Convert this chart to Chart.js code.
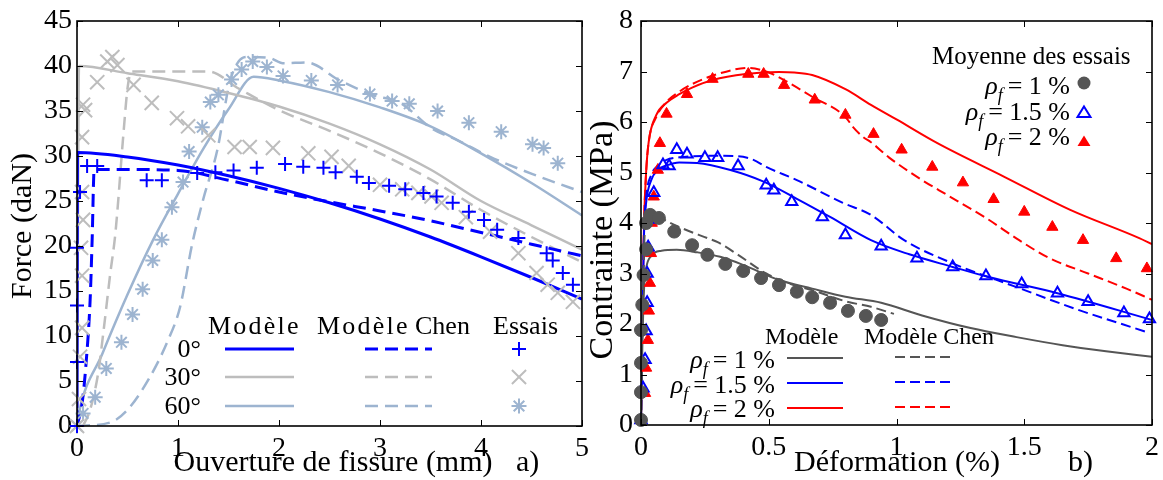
<!DOCTYPE html>
<html>
<head>
<meta charset="utf-8">
<script src="https://cdn.jsdelivr.net/npm/chart.js@4.4.1/dist/chart.umd.min.js"></script>
<style>
  body { margin: 0; background: #fff; width: 1163px; height: 480px; overflow: hidden; position: relative; font-family: 'Liberation Serif', serif; }
  .panel { position: absolute; top: 0; height: 480px; }
</style>
</head>
<body>
<div class="panel" style="left:0;width:590px"><canvas id="chartA"></canvas></div>
<div class="panel" style="left:590px;width:573px"><canvas id="chartB"></canvas></div>
<script>
// ---- panel a) : force vs crack opening ----
const mod0 = [[0,0],[0.005,30.4],[0.5,29.9],[1,29],[1.5,27.8],[2,26.4],[2.5,24.8],[3,23],[3.5,21],[4,18.8],[4.5,16.5],[5,14.1]];
const chen0 = [[0,0],[0.05,2.5],[0.09,7],[0.13,14],[0.15,20.7],[0.17,28.5],[0.5,28.5],[1,28.4],[1.5,27.3],[2,26],[2.5,24.9],[3,23.9],[3.5,22.8],[4,21.5],[4.5,20.2],[5,18.9]];
const essais0 = [[0,0],[0,7.1],[0,13.4],[0,19.8],[0.03,26],[0.1,28.9],[0.2,28.9],[0.69,27.3],[0.84,27.3],[1.19,28.1],[1.37,28.2],[1.55,28.4],[1.78,28.7],[2.06,29.1],[2.24,28.8],[2.44,28.7],[2.56,28.2],[2.77,27.7],[2.89,27],[3.09,26.7],[3.25,26.3],[3.43,25.9],[3.56,25.5],[3.72,24.8],[3.88,23.8],[4.03,22.9],[4.16,21.8],[4.37,20.9],[4.65,19.2],[4.71,18.4],[4.81,17],[4.91,15.7]];

const mod30 = [[0,0],[0.02,40],[0.5,39.2],[1,38.3],[1.5,37],[2,35.5],[2.5,33.6],[3,31.3],[3.5,28.5],[4,25],[4.5,22.3],[5,19.6]];
const chen30 = [[0.06,0],[0.13,1.8],[0.21,5.9],[0.26,10.3],[0.33,17],[0.38,21.4],[0.46,32.5],[0.5,37.5],[0.54,39.4],[1.3,39.4],[1.6,37.5],[2,35.1],[2.5,32.8],[3,30.3],[3.5,27.4],[4,24],[4.5,21],[5,18.2]];
const essais30 = [[0,0],[0.02,3],[0.03,7.7],[0.05,10.9],[0.05,16.7],[0.04,19.8],[0.06,22.9],[0.05,26],[0.05,32.1],[0.06,35.7],[0.08,35.1],[0.2,38.2],[0.3,40.5],[0.35,41],[0.4,40.1],[0.56,37.9],[0.74,35.9],[0.99,34.2],[1.1,33.3],[1.3,32.3],[1.56,31],[1.71,31],[1.94,30.9],[2.29,30.3],[2.52,29.9],[2.69,28.9],[3,26.8],[3.22,26.3],[3.38,25.9],[3.51,25.5],[3.61,24.8],[3.85,23.2],[4.09,21.6],[4.37,19.2],[4.55,17],[4.66,15.7],[4.76,14.8],[4.91,13.8]];

const mod60 = [[0,0],[0.02,1.5],[0.25,8],[0.5,14.6],[0.75,20.6],[1,25.8],[1.25,30.8],[1.5,35.2],[1.75,38.8],[2,38.4],[2.5,37.1],[3,35.4],[3.5,33.3],[4,30.3],[4.5,27],[5,23.4]];
const chen60 = [[0,0],[0.33,0.4],[0.5,1.8],[0.72,5.4],[0.9,9.5],[1.02,13.2],[1.14,20.2],[1.25,25.2],[1.39,30.7],[1.51,38.1],[1.6,40.5],[1.69,41],[1.9,40.9],[2.05,40.3],[2.27,40.4],[2.6,38.4],[2.92,36.8],[3.2,35.9],[3.52,33],[3.76,31.8],[4.09,29.9],[4.58,27.7],[5,26]];
const essais60 = [[0,0],[0.06,1.4],[0.18,3.2],[0.29,6.4],[0.44,9.3],[0.55,12.4],[0.65,15.2],[0.75,18.4],[0.84,20.7],[0.94,24.3],[1.05,27.1],[1.11,30.5],[1.24,33.2],[1.32,36],[1.4,36.8],[1.53,38.5],[1.63,39.6],[1.74,40.5],[1.88,39.9],[2.04,38.9],[2.32,38.4],[2.58,37.9],[2.9,36.9],[3.12,36.1],[3.29,35.8],[3.57,35],[3.88,33.7],[4.2,32.7],[4.51,31.3],[4.62,30.9],[4.76,29.2]];

const anglesA = ['0°', '30°', '60°'];

// ---- panel b) : stress vs strain ----
const modR1 = [[0,0],[0.005,1.5],[0.012,2.7],[0.02,3.1],[0.04,3.35],[0.08,3.45],[0.14,3.47],[0.22,3.42],[0.31,3.33],[0.4,3.17],[0.54,2.87],[0.67,2.7],[0.8,2.54],[0.94,2.42],[1.1,2.17],[1.29,1.92],[1.47,1.74],[1.65,1.58],[1.82,1.46],[2,1.35]];
const chenR1 = [[0,0],[0.005,2],[0.012,3.5],[0.02,4.1],[0.04,4.25],[0.08,4.1],[0.15,3.92],[0.26,3.7],[0.3,3.62],[0.38,3.37],[0.49,3.0],[0.58,2.8],[0.67,2.67],[0.8,2.45],[0.9,2.34],[0.99,2.2]];
const essaisR1 = [[0,0.1],[0,0.65],[0,1.23],[0,1.88],[0.005,2.38],[0.01,2.97],[0.02,3.48],[0.02,4.0],[0.036,4.16],[0.07,4.1],[0.13,3.83],[0.2,3.56],[0.26,3.37],[0.33,3.19],[0.4,3.05],[0.47,2.91],[0.54,2.77],[0.61,2.64],[0.67,2.53],[0.74,2.42],[0.81,2.26],[0.88,2.16],[0.94,2.08]];

const modR15 = [[0,0],[0.005,2],[0.012,3.8],[0.02,4.4],[0.04,4.85],[0.066,5.05],[0.1,5.14],[0.15,5.2],[0.22,5.19],[0.35,5.05],[0.48,4.82],[0.61,4.48],[0.74,4.12],[0.9,3.66],[1.05,3.38],[1.22,3.13],[1.36,2.93],[1.63,2.61],[2,2.08]];
const chenR15 = [[0,0],[0.005,2],[0.012,3.8],[0.02,4.5],[0.04,4.95],[0.07,5.15],[0.1,5.25],[0.15,5.3],[0.28,5.33],[0.38,5.32],[0.44,5.25],[0.49,5.11],[0.61,4.85],[0.79,4.4],[0.9,4.16],[1.03,3.66],[1.22,3.2],[1.47,2.73],[1.7,2.3],[1.98,1.84]];
const essaisR15 = [[0,0.1],[0.008,0.73],[0.016,1.29],[0.02,1.86],[0.024,2.42],[0.024,3.0],[0.028,3.52],[0.05,4.07],[0.05,4.6],[0.086,5.15],[0.11,5.13],[0.14,5.45],[0.18,5.36],[0.25,5.29],[0.3,5.29],[0.38,5.13],[0.49,4.75],[0.52,4.65],[0.59,4.42],[0.71,4.12],[0.8,3.76],[0.94,3.54],[1.08,3.3],[1.22,3.13],[1.35,2.95],[1.49,2.79],[1.63,2.61],[1.75,2.44],[1.89,2.22],[1.99,2.1]];

const modR2 = [[0,0],[0.005,2],[0.012,4],[0.02,5],[0.03,5.6],[0.06,6.14],[0.1,6.38],[0.15,6.55],[0.2,6.68],[0.28,6.83],[0.41,6.95],[0.54,6.99],[0.6,6.98],[0.67,6.93],[0.8,6.65],[0.9,6.34],[1,6.05],[1.16,5.58],[1.42,4.92],[1.68,4.26],[1.95,3.7],[2,3.58]];
const chenR2 = [[0,0],[0.005,2],[0.012,4],[0.02,5],[0.03,5.6],[0.06,6.1],[0.1,6.4],[0.15,6.6],[0.2,6.75],[0.3,6.95],[0.42,7.07],[0.5,6.98],[0.56,6.83],[0.67,6.5],[0.8,6.1],[0.83,5.9],[0.87,5.7],[0.9,5.6],[0.97,5.3],[1.1,4.85],[1.2,4.55],[1.35,4.1],[1.48,3.66],[1.6,3.3],[1.75,3.0],[1.9,2.7],[2,2.48]];
const essaisR2 = [[0.016,0.63],[0.02,1.13],[0.027,1.68],[0.031,2.26],[0.035,2.81],[0.039,3.4],[0.042,4.0],[0.05,4.52],[0.066,5.05],[0.074,5.58],[0.1,6.16],[0.18,6.55],[0.28,6.85],[0.42,6.95],[0.48,6.95],[0.56,6.73],[0.68,6.44],[0.8,6.14],[0.91,5.76],[1.02,5.45],[1.14,5.11],[1.26,4.8],[1.38,4.47],[1.5,4.22],[1.61,3.92],[1.73,3.66],[1.86,3.3],[1.98,3.1]];

const ratiosB = ['1', '1.5', '2'];

const FONT = 'Liberation Serif';
const BLUE = '#0000ff', GRAY = '#bdbdbd', STEEL = '#9db4d0';
const DARK = '#555555', RED = '#ff0000';

Chart.defaults.font.family = FONT;
Chart.defaults.color = '#000';
Chart.defaults.animation = false;

const pts = arr => arr.map(p => ({ x: p[0], y: p[1] }));

function line(data, color, width, dash) {
  return {
    data: pts(data), showLine: true, borderColor: color, borderWidth: width,
    borderDash: dash || [], pointRadius: 0, pointHoverRadius: 0,
    cubicInterpolationMode: 'monotone'
  };
}
function marks(data, color, style, radius, filled, bw) {
  return {
    data: pts(data), showLine: false, pointStyle: style, pointRadius: radius,
    borderColor: color, backgroundColor: filled ? color : 'rgba(0,0,0,0)',
    pointBorderWidth: bw, clip: false
  };
}

// frame + inward tick marks on all four sides
const frame = {
  id: 'frame',
  afterDatasetsDraw(chart) {
    const { ctx, chartArea: a, scales: { x, y } } = chart;
    ctx.save();
    ctx.strokeStyle = '#000';
    ctx.lineWidth = 1;
    ctx.beginPath();
    x.ticks.forEach(t => {
      const px = Math.round(x.getPixelForValue(t.value)) + 0.5;
      ctx.moveTo(px, a.bottom); ctx.lineTo(px, a.bottom - 6);
      ctx.moveTo(px, a.top); ctx.lineTo(px, a.top + 6);
    });
    y.ticks.forEach(t => {
      const py = Math.round(y.getPixelForValue(t.value)) + 0.5;
      ctx.moveTo(a.left, py); ctx.lineTo(a.left + 6, py);
      ctx.moveTo(a.right, py); ctx.lineTo(a.right - 6, py);
    });
    ctx.stroke();
    ctx.lineWidth = 1.6;
    ctx.strokeRect(a.left, a.top, a.right - a.left, a.bottom - a.top);
    ctx.restore();
  }
};

function spaced(ctx, text, x, y, sp) {
  for (const ch of text) { ctx.fillText(ch, x, y); x += ctx.measureText(ch).width + sp; }
}

function marker(ctx, style, x, y, r, color, filled, bw) {
  ctx.save();
  ctx.strokeStyle = color; ctx.fillStyle = color; ctx.lineWidth = bw;
  ctx.beginPath();
  if (style === 'cross') {
    ctx.moveTo(x - r, y); ctx.lineTo(x + r, y); ctx.moveTo(x, y - r); ctx.lineTo(x, y + r);
  } else if (style === 'crossRot') {
    const d = r * Math.SQRT1_2;
    ctx.moveTo(x - d, y - d); ctx.lineTo(x + d, y + d); ctx.moveTo(x - d, y + d); ctx.lineTo(x + d, y - d);
  } else if (style === 'star') {
    const d = r * Math.SQRT1_2;
    ctx.moveTo(x - r, y); ctx.lineTo(x + r, y); ctx.moveTo(x, y - r); ctx.lineTo(x, y + r);
    ctx.moveTo(x - d, y - d); ctx.lineTo(x + d, y + d); ctx.moveTo(x - d, y + d); ctx.lineTo(x + d, y - d);
  } else if (style === 'circle') {
    ctx.arc(x, y, r, 0, Math.PI * 2);
  } else if (style === 'triangle') {
    const h = r * 0.866;
    ctx.moveTo(x, y - r); ctx.lineTo(x + h * 1.15, y + r * 0.6); ctx.lineTo(x - h * 1.15, y + r * 0.6); ctx.closePath();
  }
  if (filled) ctx.fill(); else ctx.stroke();
  ctx.restore();
}

function rho(ctx, val, xr, y, size, eqGap) {
  const big = `italic ${size}px ${FONT}`;
  const small = `italic ${Math.round(size * 0.7)}px ${FONT}`;
  const norm = `${size}px ${FONT}`;
  const rest = '= ' + val + ' %';
  ctx.font = big; const w1 = ctx.measureText('ρ').width;
  ctx.font = small; const w2 = ctx.measureText('f').width + eqGap;
  ctx.font = norm; const w3 = ctx.measureText(rest).width;
  let x = xr - (w1 + w2 + w3);
  ctx.textAlign = 'left'; ctx.textBaseline = 'middle';
  ctx.font = big; ctx.fillText('ρ', x, y); x += w1;
  ctx.font = small; ctx.fillText('f', x, y + 9); x += w2;
  ctx.font = norm; ctx.fillText(rest, x, y);
}

function line2(ctx, x1, x2, y, color, width, dash) {
  ctx.save();
  ctx.strokeStyle = color; ctx.lineWidth = width; ctx.setLineDash(dash);
  ctx.beginPath(); ctx.moveTo(x1, y); ctx.lineTo(x2, y); ctx.stroke();
  ctx.restore();
}

// panel a) legend and axis titles (page coordinates, canvas at x=0)
const annotA = {
  id: 'annotA',
  afterDraw(chart) {
    const ctx = chart.ctx;
    ctx.save();
    ctx.fillStyle = '#000';
    ctx.font = `26px ${FONT}`;
    ctx.textBaseline = 'middle';
    ctx.textAlign = 'left';
    spaced(ctx, 'Modèle', 208, 327, 2.2);
    spaced(ctx, 'Modèle', 317, 327, 2.2);
    ctx.fillText('Chen', 415, 327);
    ctx.fillText('Essais', 493, 327);
    const rows = [349, 377, 406];
    const cols = [BLUE, GRAY, STEEL];
    const ms = [['cross', 7, 2], ['crossRot', 10, 2], ['star', 7.5, 2]];
    anglesA.forEach((lab, i) => {
      ctx.textAlign = 'right';
      ctx.fillText(lab, 201, rows[i] + 1);
      line2(ctx, 225, 294, rows[i], cols[i], i === 0 ? 3 : 2.5, []);
      line2(ctx, 365, 432, rows[i], cols[i], i === 0 ? 3 : 2.5, [13, 7]);
      marker(ctx, ms[i][0], 519, rows[i], ms[i][1], cols[i], false, ms[i][2]);
    });
    ctx.fillStyle = '#000';
    ctx.font = `30px ${FONT}`;
    ctx.textAlign = 'center';
    ctx.fillText('Ouverture de fissure (mm)', 333, 463);
    ctx.textAlign = 'left';
    ctx.fillText('a)', 516, 463);
    ctx.translate(23, 226);
    ctx.rotate(-Math.PI / 2);
    ctx.textAlign = 'center';
    ctx.fillText('Force (daN)', 0, 0);
    ctx.restore();
  }
};

// panel b) legends and axis titles (page coordinates, canvas at x=590)
const annotB = {
  id: 'annotB',
  afterDraw(chart) {
    const ctx = chart.ctx;
    ctx.save();
    ctx.translate(-590, 0);
    ctx.fillStyle = '#000';
    ctx.textBaseline = 'middle';
    ctx.textAlign = 'left';
    ctx.font = `25px ${FONT}`;
    ctx.fillText('Moyenne des essais', 932, 57);
    const rowsT = [87, 113, 138];
    const ms = [['circle', 6.5, true], ['triangle', 6.5, false], ['triangle', 6.5, true]];
    const cols = [DARK, BLUE, RED];
    const mk = [83, 113, 142];
    ratiosB.forEach((v, i) => {
      rho(ctx, v, 1070, rowsT[i], 26, 5);
      marker(ctx, ms[i][0], 1084, mk[i], ms[i][1], cols[i], ms[i][2], 2);
    });
    ctx.font = `24px ${FONT}`;
    ctx.textAlign = 'left';
    ctx.fillText('Modèle', 765, 338);
    ctx.fillText('Modèle Chen', 864, 338);
    const rowsB = [361, 386, 410];
    const ly = [358, 383, 408];
    ratiosB.forEach((v, i) => {
      rho(ctx, v, 775, rowsB[i], 26, 5);
      line2(ctx, 787, 843, ly[i], cols[i], 2, []);
      line2(ctx, 895, 951, ly[i] - 1, cols[i], 2, [10, 5]);
    });
    ctx.fillStyle = '#000';
    ctx.font = `30px ${FONT}`;
    ctx.textAlign = 'center';
    ctx.fillText('Déformation (%)', 897, 463);
    ctx.textAlign = 'left';
    ctx.fillText('b)', 1068, 463);
    ctx.font = `34px ${FONT}`;
    ctx.translate(603, 240);
    ctx.rotate(-Math.PI / 2);
    ctx.textAlign = 'center';
    ctx.fillText('Contrainte (MPa)', 0, 0);
    ctx.restore();
  }
};

function axes(xmin, xmax, xstep, ymin, ymax, ystep, yWidth, xHeight, ypad) {
  const tickFont = { family: FONT, size: 28 };
  return {
    x: {
      type: 'linear', min: xmin, max: xmax,
      ticks: { stepSize: xstep, padding: 6, font: tickFont, color: '#000', maxRotation: 0,
               callback: v => String(+v.toFixed(2)) },
      grid: { display: false, drawTicks: false }, border: { display: false },
      afterFit: s => { s.height = xHeight; s.paddingLeft = 0; s.paddingRight = 0; }
    },
    y: {
      type: 'linear', min: ymin, max: ymax,
      ticks: { stepSize: ystep, padding: ypad, font: tickFont, color: '#000',
               callback: v => String(+v.toFixed(2)) },
      grid: { display: false, drawTicks: false }, border: { display: false },
      afterFit: s => { s.width = yWidth; s.paddingTop = 0; s.paddingBottom = 0; }
    }
  };
}

new Chart(document.getElementById('chartA'), {
  type: 'scatter',
  data: {
    datasets: [
      marks(essais0, BLUE, 'cross', 7, false, 2),
      marks(essais30, GRAY, 'crossRot', 10, false, 2),
      marks(essais60, STEEL, 'star', 7.5, false, 2),
      line(mod0, BLUE, 3, []),
      line(chen0, BLUE, 3, [13, 7]),
      line(mod30, GRAY, 2.5, []),
      line(chen30, GRAY, 2.5, [13, 7]),
      line(mod60, STEEL, 2.5, []),
      line(chen60, STEEL, 2.5, [13, 7])
    ]
  },
  options: {
    responsive: true, maintainAspectRatio: false,
    layout: { autoPadding: false, padding: { left: 0, top: 21, right: 8, bottom: 0 } },
    plugins: { legend: { display: false }, tooltip: { enabled: false } },
    scales: axes(0, 5, 1, 0, 45, 5, 77, 54, 5)
  },
  plugins: [frame, annotA]
});

new Chart(document.getElementById('chartB'), {
  type: 'scatter',
  data: {
    datasets: [
      marks(essaisR1, DARK, 'circle', 6.5, true, 1),
      marks(essaisR15, BLUE, 'triangle', 6.5, false, 2),
      marks(essaisR2, RED, 'triangle', 6.5, true, 1),
      line(modR1, DARK, 2, []),
      line(chenR1, DARK, 2, [10, 5]),
      line(modR15, BLUE, 2, []),
      line(chenR15, BLUE, 2, [10, 5]),
      line(modR2, RED, 2, []),
      line(chenR2, RED, 2, [10, 5])
    ]
  },
  options: {
    responsive: true, maintainAspectRatio: false,
    layout: { autoPadding: false, padding: { left: 0, top: 21, right: 11, bottom: 0 } },
    plugins: { legend: { display: false }, tooltip: { enabled: false } },
    scales: axes(0, 2, 0.5, 0, 8, 1, 51, 55, 8)
  },
  plugins: [frame, annotB]
});
</script>
</body>
</html>
